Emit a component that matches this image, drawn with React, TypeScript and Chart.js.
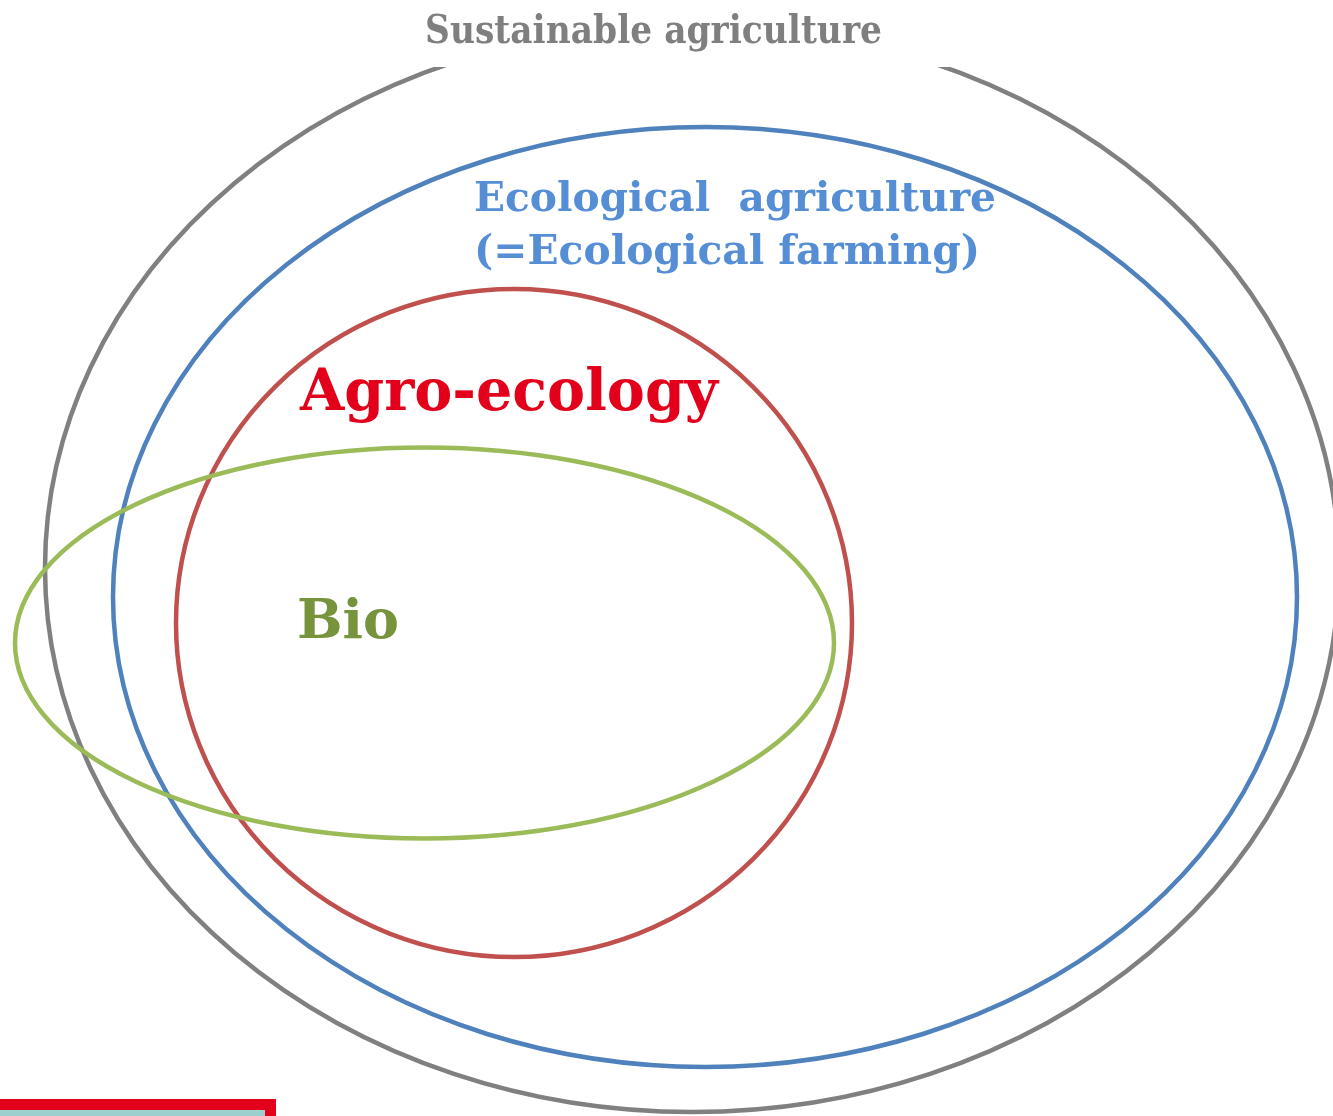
import React, { useEffect, useRef } from 'react';
import { Chart, registerables } from 'chart.js';

Chart.register(...registerables);

const W = 1333;
const H = 1116;

// Ellipses (diagram units = pixel-like coordinate space, y downward)
const ellipseNames = ['Sustainable agriculture', 'Ecological agriculture', 'Agro-ecology', 'Bio'];
const centerX = [692, 705, 514, 424.5];
const centerY = [568, 597, 623, 643];
const radiusX = [647, 592, 338, 409.5];
const radiusY = [544, 470, 334, 195.5];
const lineColors = ['#808080', '#4f81bd', '#c0504d', '#9bbb59'];

// Labels
const labelTexts = ['Sustainable agriculture', 'Ecological  agriculture', '(=Ecological farming)', 'Agro-ecology', 'Bio'];
const labelLeft = [425, 474, 474, 300, 297];
const labelBaseline = [43, 211, 264, 410, 638];
const labelWidth = [457, 522, 506, 418, 102];
const labelCap = [29, 30, 30, 42, 39];
const labelColors = ['#7f7f7f', '#558ed5', '#558ed5', '#e3001b', '#77933c'];

const vennPlugin = {
  id: 'venn',
  afterDatasetsDraw(chart: any) {
    const { ctx } = chart;
    const xs = chart.scales.x;
    const ys = chart.scales.y;
    ctx.save();
    for (let i = 0; i < ellipseNames.length; i++) {
      const cx = xs.getPixelForValue(centerX[i]);
      const cy = ys.getPixelForValue(centerY[i]);
      const rx = Math.abs(xs.getPixelForValue(centerX[i] + radiusX[i]) - cx);
      const ry = Math.abs(ys.getPixelForValue(centerY[i] + radiusY[i]) - cy);
      ctx.beginPath();
      ctx.ellipse(cx, cy, rx, ry, 0, 0, Math.PI * 2);
      ctx.lineWidth = 4.5;
      ctx.strokeStyle = lineColors[i];
      ctx.stroke();
    }
    // gap behind the title
    ctx.fillStyle = '#ffffff';
    ctx.fillRect(0, 0, W, ys.getPixelForValue(67));

    // labels
    for (let i = 0; i < labelTexts.length; i++) {
      const size = labelCap[i] / 0.729;
      ctx.font = `bold ${size}px "DejaVu Serif"`;
      const m = ctx.measureText(labelTexts[i]).width;
      const sx = labelWidth[i] / m;
      ctx.save();
      ctx.translate(xs.getPixelForValue(labelLeft[i]), ys.getPixelForValue(labelBaseline[i]));
      ctx.scale(sx, 1);
      ctx.fillStyle = labelColors[i];
      ctx.textAlign = 'left';
      ctx.textBaseline = 'alphabetic';
      ctx.fillText(labelTexts[i], 0, 0);
      ctx.restore();
    }

    // partial box at bottom-left
    ctx.fillStyle = '#e2001a';
    ctx.fillRect(0, 1099, 276, H - 1099);
    ctx.fillStyle = '#9dcfcf';
    ctx.fillRect(0, 1110, 265, H - 1110);
    ctx.restore();
  },
};

export default function App() {
  const ref = useRef<HTMLCanvasElement | null>(null);
  useEffect(() => {
    if (!ref.current) return;
    const chart = new Chart(ref.current, {
      type: 'scatter',
      data: {
        datasets: [
          {
            label: 'centers',
            data: centerX.map((v, i) => ({ x: v, y: centerY[i] })),
            pointRadius: 0,
            pointHoverRadius: 0,
            showLine: false,
          },
        ],
      },
      options: {
        responsive: false,
        animation: false,
        events: [],
        layout: { padding: 0 },
        plugins: { legend: { display: false }, tooltip: { enabled: false }, title: { display: false } },
        scales: {
          x: { type: 'linear', min: 0, max: W, display: false },
          y: { type: 'linear', min: 0, max: H, reverse: true, display: false },
        },
      },
      plugins: [vennPlugin],
    });
    return () => chart.destroy();
  }, []);
  return (
    <div style={{ position: 'absolute', left: 0, top: 0, width: W, height: H, background: '#fff' }}>
      <canvas ref={ref} width={W} height={H} style={{ display: 'block' }} />
    </div>
  );
}
